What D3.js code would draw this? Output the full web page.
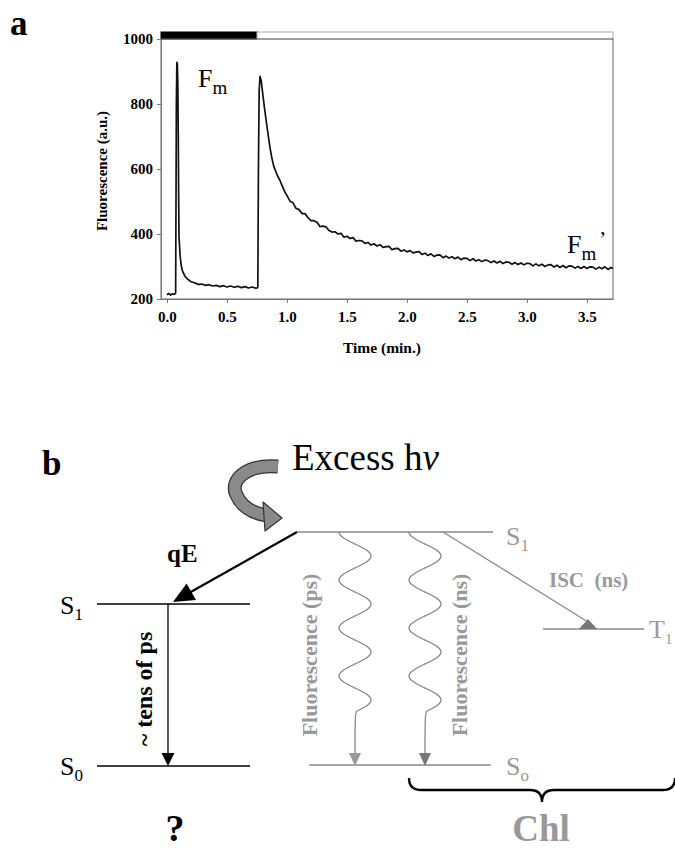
<!DOCTYPE html>
<html>
<head>
<meta charset="utf-8">
<script src="https://cdn.jsdelivr.net/npm/d3@7"></script>
<style>
body { margin: 0; background: #fff; }
svg { display: block; font-family: "Liberation Serif", "Times New Roman", serif; }
</style>
</head>
<body>
<div id="chart"></div>
<script>
// Panel a: chlorophyll fluorescence trace
const time = [0.00, 0.015, 0.03, 0.045, 0.06, 0.072, 0.075, 0.078, 0.082, 0.086, 0.09, 0.094, 0.097,
    0.10, 0.11, 0.12, 0.13, 0.15, 0.17, 0.20, 0.23, 0.26, 0.29, 0.32, 0.35, 0.38, 0.41, 0.44, 0.47,
    0.50, 0.53, 0.56, 0.59, 0.62, 0.65, 0.68, 0.71, 0.74, 0.755,
    0.757, 0.762, 0.768, 0.775, 0.785, 0.80, 0.815, 0.83, 0.845, 0.86, 0.875, 0.89, 0.905, 0.92, 0.94, 0.96, 0.98,
    1.000, 1.025, 1.050, 1.075, 1.100, 1.125, 1.150, 1.175, 1.200, 1.225, 1.250, 1.275, 1.300, 1.325,
    1.350, 1.375, 1.400, 1.425, 1.450, 1.475, 1.500, 1.525, 1.550, 1.575, 1.600, 1.625, 1.650, 1.675,
    1.700, 1.725, 1.750, 1.775, 1.800, 1.825, 1.850, 1.875, 1.900, 1.925, 1.950, 1.975, 2.000, 2.025,
    2.050, 2.075, 2.100, 2.125, 2.150, 2.175, 2.200, 2.225, 2.250, 2.275, 2.300, 2.325, 2.350, 2.375,
    2.400, 2.425, 2.450, 2.475, 2.500, 2.525, 2.550, 2.575, 2.600, 2.625, 2.650, 2.675, 2.700, 2.725,
    2.750, 2.775, 2.800, 2.825, 2.850, 2.875, 2.900, 2.925, 2.950, 2.975, 3.000, 3.025, 3.050, 3.075,
    3.100, 3.125, 3.150, 3.175, 3.200, 3.225, 3.250, 3.275, 3.300, 3.325, 3.350, 3.375, 3.400, 3.425,
    3.450, 3.475, 3.500, 3.525, 3.550, 3.575, 3.600, 3.625, 3.650, 3.675, 3.700, 3.717];
const fluor = [213, 217, 212, 216, 214, 218, 500, 800, 928, 925, 870, 700, 520,
    390, 330, 300, 285, 270, 262, 253, 250, 245, 246, 242, 244, 240, 242, 238, 241,
    237, 240, 236, 239, 235, 238, 234, 237, 233, 235,
    236, 600, 840, 885, 872, 825, 780, 740, 700, 662, 632, 608, 594, 580, 566, 548, 531,
    518, 501, 496, 479, 475, 463, 463, 450, 441, 441, 436, 423, 424, 422,
    411, 406, 407, 400, 402, 390, 393, 386, 389, 378, 380, 379, 371, 374,
    366, 370, 363, 367, 359, 361, 362, 352, 355, 356, 347, 351, 345, 349,
    342, 344, 346, 337, 341, 334, 339, 331, 335, 336, 327, 332, 326, 330,
    324, 329, 321, 326, 325, 318, 324, 317, 321, 315, 320, 318, 312, 317,
    311, 316, 309, 314, 313, 307, 312, 306, 311, 305, 310, 309, 302, 308,
    302, 307, 300, 305, 306, 298, 304, 297, 303, 296, 302, 301, 295, 300,
    294, 300, 294, 299, 298, 292, 298, 293, 299, 291, 297, 294];
const xTicks = [0.0, 0.5, 1.0, 1.5, 2.0, 2.5, 3.0, 3.5];
const yTicks = [200, 400, 600, 800, 1000];
// actinic light bar: dark then light period
const barEdges = [-0.05, 0.75, 3.717];

const W = 675, H = 848;
const svg = d3.select("#chart").append("svg")
    .attr("width", W)
    .attr("height", H);

const x = d3.scaleLinear().domain([-0.05, 3.717]).range([161, 613]);
const y = d3.scaleLinear().domain([200, 1000]).range([299, 39]);

// panel letter
svg.append("text").attr("x", 10).attr("y", 35)
    .attr("font-size", 35).attr("font-weight", "bold").text("a");

const g = svg.append("g");

// light bar on top of the plot
g.selectAll(".bar")
    .data(d3.pairs(barEdges))
    .enter().append("rect")
    .attr("class", "bar")
    .attr("x", d => x(d[0]))
    .attr("width", d => x(d[1]) - x(d[0]))
    .attr("y", 32)
    .attr("height", 7)
    .attr("fill", (d, i) => i === 0 ? "#000" : "#fff")
    .attr("stroke", (d, i) => i === 0 ? "#000" : "#aaa");

// frame
g.append("rect")
    .attr("x", x.range()[0]).attr("y", y.range()[1])
    .attr("width", x.range()[1] - x.range()[0])
    .attr("height", y.range()[0] - y.range()[1])
    .attr("fill", "none").attr("stroke", "#666");

const yAxis = g.append("g")
    .attr("transform", `translate(${x.range()[0]},0)`)
    .call(d3.axisLeft(y).tickValues(yTicks).tickFormat(d3.format("d")).tickSize(4).tickSizeOuter(0).tickPadding(4));
const xAxis = g.append("g")
    .attr("transform", `translate(0,${y.range()[0]})`)
    .call(d3.axisBottom(x).tickValues(xTicks).tickFormat(d3.format(".1f")).tickSize(4).tickSizeOuter(0).tickPadding(8));

[yAxis, xAxis].forEach(a => {
    a.attr("font-family", null).attr("font-size", null);
    a.select(".domain").attr("stroke", "#777");
    a.selectAll(".tick line").attr("stroke", "#777");
    a.selectAll(".tick text").attr("fill", "#000").attr("font-weight", "bold").attr("font-size", 15);
});

// axis titles
svg.append("text")
    .attr("transform", "translate(107,171) rotate(-90)")
    .attr("text-anchor", "middle").attr("font-weight", "bold").attr("font-size", 15)
    .text("Fluorescence (a.u.)");
svg.append("text")
    .attr("x", 382).attr("y", 353)
    .attr("text-anchor", "middle").attr("font-weight", "bold").attr("font-size", 15.5)
    .text("Time (min.)");

// the trace
g.append("path")
    .datum(d3.zip(time, fluor))
    .attr("fill", "none")
    .attr("stroke", "#111")
    .attr("stroke-width", 1.7)
    .attr("stroke-linejoin", "round")
    .attr("d", d3.line().x(d => x(d[0])).y(d => y(d[1])));

// Fm labels
function subLabel(px, py, main, sub, opts) {
    const t = svg.append("text").attr("x", px).attr("y", py)
        .attr("font-size", opts.size).attr("fill", opts.color || "#000");
    if (opts.bold) t.attr("font-weight", "bold");
    t.append("tspan").text(main);
    t.append("tspan").attr("font-size", opts.subSize).attr("dy", opts.dy).text(sub);
    return t;
}
subLabel(198, 87, "F", "m", { size: 26, subSize: 19, dy: 7 });
subLabel(567, 253, "F", "m", { size: 26, subSize: 19, dy: 7 });
svg.append("text").attr("x", 599).attr("y", 246).attr("font-size", 22).text("’");

// Panel b: energy level diagram
const grey = "#888", greyText = "#999";

svg.append("text").attr("x", 42).attr("y", 475)
    .attr("font-size", 35).attr("font-weight", "bold").text("b");

// curved "excess light" arrow
const curl = "M278,466.5 C246,464 230,480 236,494 C241,506 252,513 265,515";
svg.append("path").attr("d", curl).attr("fill", "none").attr("stroke", "#333").attr("stroke-width", 14);
svg.append("path").attr("d", curl).attr("fill", "none").attr("stroke", "#8a8a8a").attr("stroke-width", 11.5);
svg.append("path").attr("d", "M263,502 L282,518 L265,531 Z")
    .attr("fill", "#8a8a8a").attr("stroke", "#333").attr("stroke-width", 1.2).attr("stroke-linejoin", "round");

const exc = svg.append("text").attr("x", 292).attr("y", 470).attr("font-size", 37);
exc.append("tspan").text("Excess h");
exc.append("tspan").attr("font-style", "italic").text("ν");

function hline(x1, x2, yy, color) {
    svg.append("line").attr("x1", x1).attr("x2", x2).attr("y1", yy).attr("y2", yy)
        .attr("stroke", color).attr("stroke-width", 1.3);
}
function head(tip, from, len, half, color) {
    const dx = tip[0] - from[0], dy = tip[1] - from[1], L = Math.hypot(dx, dy);
    const ux = dx / L, uy = dy / L;
    const bx = tip[0] - ux * len, by = tip[1] - uy * len;
    svg.append("path")
        .attr("d", d3.line()([tip, [bx - uy * half, by + ux * half], [bx + uy * half, by - ux * half]]) + "Z")
        .attr("fill", color);
}
function arrow(from, tip, len, half, color, width) {
    const dx = tip[0] - from[0], dy = tip[1] - from[1], L = Math.hypot(dx, dy);
    svg.append("line").attr("x1", from[0]).attr("y1", from[1])
        .attr("x2", tip[0] - dx / L * len * 0.8).attr("y2", tip[1] - dy / L * len * 0.8)
        .attr("stroke", color).attr("stroke-width", width);
    head(tip, from, len, half, color);
}

// quencher levels (left)
hline(97, 250, 604, "#000");
hline(97, 250, 766, "#000");
subLabel(60, 614, "S", "1", { size: 26, subSize: 17, dy: 6 });
subLabel(60, 775, "S", "0", { size: 26, subSize: 17, dy: 6 });
arrow([168, 604], [168, 766], 13, 6.5, "#000", 1.3);
svg.append("text")
    .attr("transform", "translate(152,689) rotate(-90)")
    .attr("text-anchor", "middle").attr("font-weight", "bold").attr("font-size", 24)
    .text("~ tens of ps");

// qE transfer
arrow([297, 532], [173, 602], 21, 9.5, "#000", 2.2);
svg.append("text").attr("x", 167).attr("y", 562)
    .attr("font-size", 25).attr("font-weight", "bold").text("qE");

// chlorophyll levels (right)
hline(297, 493, 532, grey);
hline(309, 491, 765, grey);
hline(543, 644, 629, grey);
subLabel(506, 545, "S", "1", { size: 26, subSize: 17, dy: 6, color: greyText });
subLabel(506, 775, "S", "o", { size: 26, subSize: 17, dy: 6, color: greyText });
subLabel(649, 638, "T", "1", { size: 26, subSize: 15, dy: 6, color: greyText });

// wavy fluorescence arrows
function wave(cx, headColor) {
    const y0 = 532, y1 = 712;
    const pts = d3.range(y0, y1 + 0.5, 1).map(yy => [cx - 16 * Math.cos(2 * Math.PI * (yy - y0) / 48), yy]);
    pts.push([cx, 756]);
    svg.append("path").attr("d", d3.line().curve(d3.curveBasis)(pts))
        .attr("fill", "none").attr("stroke", grey).attr("stroke-width", 1.3);
    head([cx, 766], [cx, 700], 13, 6, headColor);
}
wave(355, "#999");
wave(425, "#777");

svg.append("text")
    .attr("transform", "translate(317,655) rotate(-90)")
    .attr("text-anchor", "middle").attr("font-weight", "bold").attr("font-size", 22)
    .attr("fill", greyText).text("Fluorescence (ps)");
svg.append("text")
    .attr("transform", "translate(467,655) rotate(-90)")
    .attr("text-anchor", "middle").attr("font-weight", "bold").attr("font-size", 22)
    .attr("fill", greyText).text("Fluorescence (ns)");

// intersystem crossing
svg.append("line").attr("x1", 443).attr("y1", 532).attr("x2", 588).attr("y2", 622)
    .attr("stroke", grey).attr("stroke-width", 1.3);
svg.append("path").attr("d", "M588,619 L579,629 L597,629 Z").attr("fill", "#777");
svg.append("text").attr("x", 549).attr("y", 587)
    .attr("font-size", 21).attr("font-weight", "bold").attr("fill", greyText)
    .attr("xml:space", "preserve").style("white-space", "pre")
    .text("ISC  (ns)");

// brace under chlorophyll
svg.append("path")
    .attr("d", "M409,778 Q409,790 421,790 L530,790 Q542,790 542,802 Q542,790 554,790 L663,790 Q675,790 675,778")
    .attr("fill", "none").attr("stroke", "#000").attr("stroke-width", 2.4);

svg.append("text").attr("x", 175).attr("y", 841).attr("text-anchor", "middle")
    .attr("font-size", 38).attr("font-weight", "bold").text("?");
svg.append("text").attr("x", 541).attr("y", 841).attr("text-anchor", "middle")
    .attr("font-size", 37).attr("font-weight", "bold").attr("fill", greyText).text("Chl");
</script>
</body>
</html>
